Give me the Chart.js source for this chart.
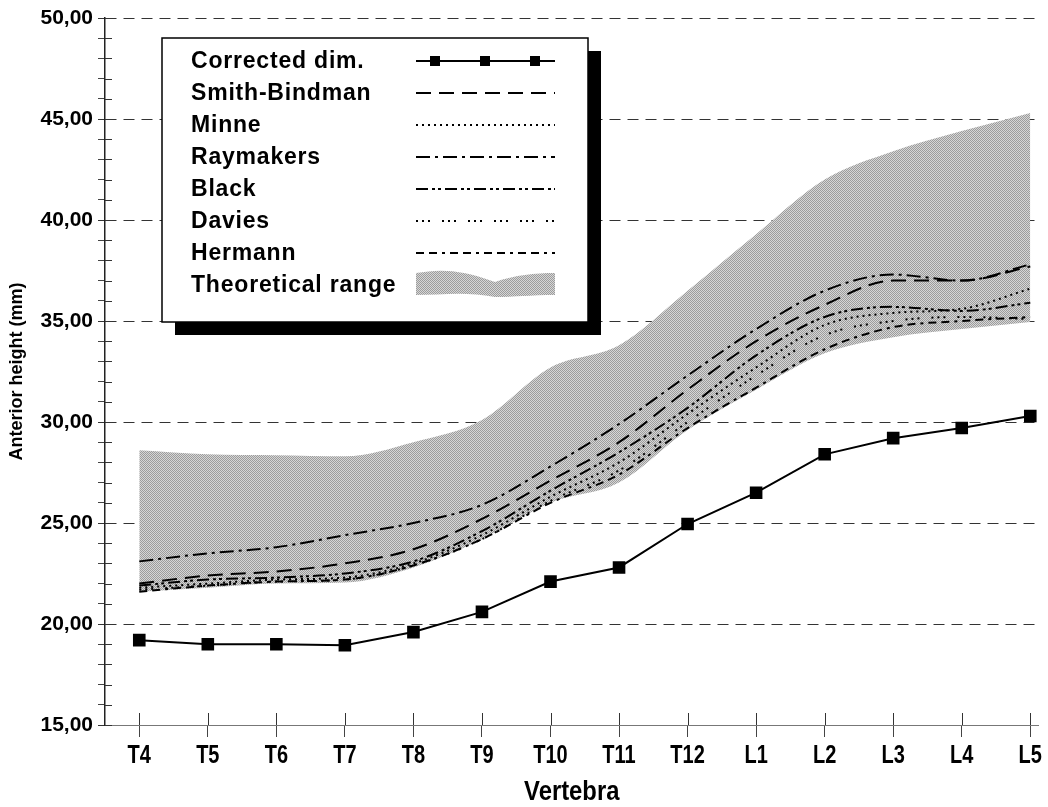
<!DOCTYPE html>
<html lang="en">
<head>
<meta charset="UTF-8">
<title>Anterior height by vertebra</title>
<script src="https://cdn.jsdelivr.net/npm/chart.js"></script>
<style>
  html, body { margin: 0; padding: 0; background: #fff; }
  #wrap { width: 1048px; height: 807px; }
</style>
</head>
<body>
<div id="wrap"><canvas id="heightChart"></canvas></div>
<script>
// data (mm)
const vertebrae = ['T4', 'T5', 'T6', 'T7', 'T8', 'T9', 'T10', 'T11', 'T12', 'L1', 'L2', 'L3', 'L4', 'L5'];
const correctedDim = [19.2, 19.0, 19.0, 18.95, 19.6, 20.6, 22.1, 22.8, 24.95, 26.5, 28.4, 29.2, 29.7, 30.3];
const smithBindman = [22.0, 22.4, 22.6, 23.0, 23.7, 25.2, 27.1, 29.0, 31.6, 34.0, 35.8, 37.0, 37.0, 37.7];
const minne        = [21.8, 22.0, 22.2, 22.3, 23.0, 24.4, 26.3, 28.0, 30.4, 32.7, 34.8, 35.4, 35.6, 36.6];
const raymakers    = [23.1, 23.5, 23.8, 24.4, 25.0, 25.9, 27.8, 29.9, 32.3, 34.6, 36.5, 37.3, 37.0, 37.8];
const black        = [21.9, 22.2, 22.3, 22.5, 23.1, 24.6, 26.6, 28.5, 30.7, 33.3, 35.2, 35.7, 35.5, 35.9];
const davies       = [21.7, 21.9, 22.1, 22.2, 22.9, 24.2, 26.1, 27.6, 30.0, 32.3, 34.3, 35.0, 35.2, 35.1];
const hermann      = [21.6, 21.9, 22.1, 22.2, 22.9, 24.2, 26.0, 27.4, 29.7, 31.7, 33.6, 34.7, 35.0, 35.2];
const rangeUpper   = [28.6, 28.4, 28.35, 28.3, 29.0, 30.1, 32.7, 33.8, 36.5, 39.3, 42.0, 43.4, 44.4, 45.3];
const rangeLower   = [21.6, 21.8, 22.0, 22.05, 22.8, 24.2, 26.0, 27.0, 29.6, 31.6, 33.4, 34.2, 34.6, 34.95];
const yTicks = [15, 20, 25, 30, 35, 40, 45, 50];

const toPoints = arr => arr.map((v, i) => ({ x: i, y: v }));

// halftone-like grey for the shaded range
function makeHalftone() {
    const c = document.createElement('canvas');
    c.width = 2; c.height = 2;
    const g = c.getContext('2d');
    g.fillStyle = '#d6d6d6'; g.fillRect(0, 0, 2, 2);
    g.fillStyle = '#9c9c9c'; g.fillRect(0, 0, 1, 1); g.fillRect(1, 1, 1, 1);
    return g.createPattern(c, 'repeat');
}
const halftone = makeHalftone();

function refLine(label, values, dash) {
    return {
        label: label,
        data: toPoints(values),
        borderColor: '#000',
        borderWidth: 2,
        borderDash: dash,
        pointRadius: 0,
        cubicInterpolationMode: 'monotone',
        fill: false
    };
}

// ticks that cross the axes, as in the original
const crossTicks = {
    id: 'crossTicks',
    afterDraw(chart) {
        const ctx = chart.ctx;
        const xs = chart.scales.x, ys = chart.scales.y;
        ctx.save();
        ctx.strokeStyle = '#333';
        ctx.lineWidth = 1;
        ctx.beginPath();
        xs.ticks.forEach(t => {
            const px = Math.round(xs.getPixelForValue(t.value)) + 0.5;
            ctx.moveTo(px, xs.top - 12);
            ctx.lineTo(px, xs.top);
        });
        ys.ticks.forEach(t => {
            const py = Math.round(ys.getPixelForValue(t.value)) + 0.5;
            ctx.moveTo(ys.right, py);
            ctx.lineTo(ys.right + 7, py);
        });
        ctx.stroke();
        ctx.restore();
    }
};

// narrow bold category labels and axis title
const xLabels = {
    id: 'xLabels',
    afterDraw(chart) {
        const ctx = chart.ctx;
        const xs = chart.scales.x;
        ctx.save();
        ctx.fillStyle = '#000';
        ctx.textAlign = 'center';
        ctx.textBaseline = 'middle';
        ctx.font = 'bold 25px "Liberation Sans", Arial, sans-serif';
        vertebrae.forEach((lab, i) => {
            ctx.save();
            ctx.translate(xs.getPixelForValue(i), 756);
            ctx.scale(0.8, 1);
            ctx.fillText(lab, 0, 0);
            ctx.restore();
        });
        ctx.font = 'bold 28px "Liberation Sans", Arial, sans-serif';
        ctx.translate((xs.left + xs.right) / 2, 792);
        ctx.scale(0.85, 1);
        ctx.fillText('Vertebra', 0, 0);
        ctx.restore();
    }
};

// boxed legend with drop shadow
const legendBox = {
    id: 'legendBox',
    afterDraw(chart) {
        const ctx = chart.ctx;
        const bx = 162, by = 38, bw = 426, bh = 284;
        ctx.save();
        ctx.fillStyle = '#000';
        ctx.fillRect(bx + 13, by + 13, bw, bh);
        ctx.fillStyle = '#fff';
        ctx.fillRect(bx, by, bw, bh);
        ctx.lineWidth = 1.5;
        ctx.strokeStyle = '#000';
        ctx.strokeRect(bx, by, bw, bh);

        const items = chart.data.datasets.filter(d => d.label);
        items.forEach((ds, i) => {
            const y = by + 23 + i * 32;
            ctx.fillStyle = '#000';
            ctx.font = 'bold 23px "Liberation Sans", Arial, sans-serif';
            ctx.letterSpacing = '0.8px';
            ctx.textBaseline = 'middle';
            ctx.textAlign = 'left';
            ctx.fillText(ds.label, bx + 29, y + 1);
            ctx.letterSpacing = '0px';

            const x1 = 416, x2 = 555;
            if (ds.fill) {
                ctx.fillStyle = ds.backgroundColor;
                ctx.beginPath();
                ctx.moveTo(x1, y - 12);
                ctx.bezierCurveTo(440, y - 16, 460, y - 16, 495, y - 3);
                ctx.bezierCurveTo(515, y - 10, 535, y - 12, x2, y - 12);
                ctx.lineTo(x2, y + 10);
                ctx.bezierCurveTo(530, y + 10, 515, y + 12, 495, y + 12);
                ctx.bezierCurveTo(465, y + 6, 440, y + 10, x1, y + 10);
                ctx.closePath();
                ctx.fill();
                return;
            }
            ctx.strokeStyle = '#000';
            ctx.lineWidth = ds.borderWidth;
            ctx.setLineDash(ds.borderDash || []);
            ctx.beginPath();
            ctx.moveTo(x1, y);
            ctx.lineTo(x2, y);
            ctx.stroke();
            ctx.setLineDash([]);
            if (ds.pointRadius) {
                [435, 485, 535].forEach(px => {
                    ctx.fillRect(px - 5, y - 5, 10, 10);
                });
            }
        });
        ctx.restore();
    }
};

const ctx = document.getElementById('heightChart').getContext('2d');
new Chart(ctx, {
    type: 'line',
    data: {
        datasets: [
            {
                label: 'Corrected dim.',
                data: toPoints(correctedDim),
                borderColor: '#000',
                backgroundColor: '#000',
                borderWidth: 2,
                pointStyle: 'rect',
                pointRadius: 7.5,
                pointHoverRadius: 7.5,
                tension: 0,
                fill: false
            },
            refLine('Smith-Bindman', smithBindman, [15, 8]),
            refLine('Minne', minne, [2, 4]),
            refLine('Raymakers', raymakers, [14, 5, 3, 5]),
            refLine('Black', black, [12, 4, 3, 3, 3, 4]),
            refLine('Davies', davies, [2, 4, 2, 4, 2, 12]),
            refLine('Hermann', hermann, [8, 5, 8, 5, 3, 5]),
            {
                label: 'Theoretical range',
                data: toPoints(rangeUpper),
                borderWidth: 0,
                borderColor: 'rgba(0,0,0,0)',
                backgroundColor: halftone,
                pointRadius: 0,
                cubicInterpolationMode: 'monotone',
                fill: '+1'
            },
            {
                label: '',
                data: toPoints(rangeLower),
                borderWidth: 0,
                borderColor: 'rgba(0,0,0,0)',
                pointRadius: 0,
                cubicInterpolationMode: 'monotone',
                fill: false
            }
        ]
    },
    options: {
        responsive: true,
        maintainAspectRatio: false,
        animation: false,
        layout: { padding: { top: 18, right: 8, left: 0, bottom: 0 } },
        plugins: {
            legend: { display: false },
            tooltip: { enabled: false }
        },
        scales: {
            x: {
                type: 'linear',
                min: -0.5,
                max: 13.12,
                afterBuildTicks: axis => { axis.ticks = vertebrae.map((_, i) => ({ value: i })); },
                afterFit: axis => { axis.height = 82; },
                grid: {
                    drawOnChartArea: false,
                    tickLength: 12,
                    tickColor: '#444'
                },
                border: { color: '#777', width: 1 },
                ticks: { display: false, autoSkip: false },
                title: { display: false }
            },
            y: {
                min: 15,
                max: 50,
                afterFit: axis => { axis.width = 105; },
                afterBuildTicks: axis => {
                    const t = [];
                    for (let v = 15; v <= 50; v++) t.push({ value: v });
                    axis.ticks = t;
                },
                grid: {
                    color: c => yTicks.includes(c.tick.value) ? '#333' : 'rgba(0,0,0,0)',
                    lineWidth: 1,
                    tickLength: 7,
                    tickColor: c => yTicks.includes(c.tick.value) ? '#333' : '#444'
                },
                border: { color: '#222', width: 1.5, dash: [11, 7] },
                ticks: {
                    autoSkip: false,
                    padding: 5,
                    color: '#000',
                    font: { family: '"Liberation Sans", Arial', size: 21, weight: 'bold' },
                    callback: v => yTicks.includes(v) ? v.toFixed(2).replace('.', ',') : ''
                },
                title: {
                    display: true,
                    text: 'Anterior height (mm)',
                    color: '#000',
                    padding: { top: 6, bottom: 0 },
                    font: { family: '"Liberation Sans", Arial', size: 18, weight: 'bold' }
                }
            }
        }
    },
    plugins: [crossTicks, xLabels, legendBox]
});
</script>
</body>
</html>
